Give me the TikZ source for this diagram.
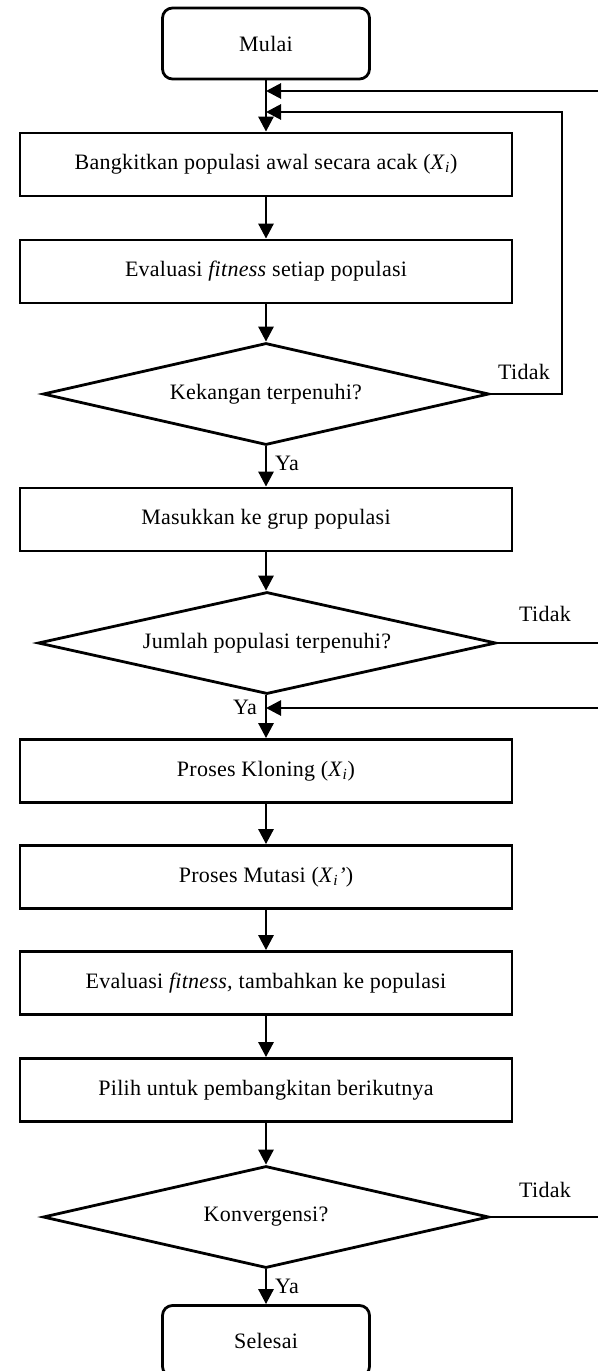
\documentclass[tikz,border=0pt]{standalone}
\usepackage{fontspec}
\setmainfont[LetterSpace=1.2]{Liberation Serif}
\usetikzlibrary{shapes.geometric,arrows.meta,calc}
\begin{document}
\begin{tikzpicture}[x=1pt,y=-1pt]
\tikzset{
  txt/.style={font=\fontsize{22}{26}\selectfont},
  box/.style={draw, txt, line width=2.8pt, minimum width=492pt, minimum height=63pt, inner sep=0pt},
  term/.style={draw, txt, line width=2.8pt, rounded corners=10pt, minimum width=207pt, minimum height=71pt, inner sep=0pt},
  dec/.style={draw, txt, diamond, aspect=4.4, line width=2.8pt, inner sep=0pt, minimum height=102pt},
  ln/.style={line width=2.8pt},
  arr/.style={line width=2.8pt, -{Triangle[length=15pt,width=15pt]}},
  lbl/.style={txt, inner sep=0pt}
}
\useasboundingbox (0,0) rectangle (598,1371);
\fill[white] (0,0) rectangle (598,1371);

\node[term] (mulai) at (266,43.5) {Mulai};
\node[box] (bangkit) at (266,164.5) {Bangkitkan populasi awal secara acak (\textit{X}\textsubscript{\textit{i}})};
\node[box] (eval1) at (266,271.5) {Evaluasi \textit{fitness} setiap populasi};
\node[dec, minimum width=446pt] (kek) at (266,394) {Kekangan terpenuhi?};
\node[box] (masuk) at (266,519.5) {Masukkan ke grup populasi};
\node[dec, minimum width=458pt] (jml) at (267,643) {Jumlah populasi terpenuhi?};
\node[box] (klon) at (266,771) {Proses Kloning (\textit{X}\textsubscript{\textit{i}})};
\node[box] (mut) at (266,877) {Proses Mutasi (\textit{X}\textsubscript{\textit{i}}\textit{’})};
\node[box] (eval2) at (266,983) {Evaluasi \textit{fitness,} tambahkan ke populasi};
\node[box] (pilih) at (266,1090) {Pilih untuk pembangkitan berikutnya};
\node[dec, minimum width=446pt] (konv) at (266,1217) {Konvergensi?};
\node[term] (selesai) at (266,1341) {Selesai};

\coordinate (e1) at (598,91);
\coordinate (r1) at (562,112);
\coordinate (e2) at (598,643);
\coordinate (e3) at (598,708);
\coordinate (e4) at (598,1217);

\draw[arr] (mulai) -- (bangkit);
\draw[arr] (bangkit) -- (eval1);
\draw[arr] (eval1) -- (kek);
\draw[arr] (kek) -- (masuk);
\draw[arr] (masuk) -- (jml.north -| masuk.south);
\draw[arr] (jml.south -| klon.north) -- (klon);
\draw[arr] (klon) -- (mut);
\draw[arr] (mut) -- (eval2);
\draw[arr] (eval2) -- (pilih);
\draw[arr] (pilih) -- (konv);
\draw[arr] (konv) -- (selesai);

\draw[arr] (e1) -- (mulai.south |- e1);
\draw[arr] (kek.east) -| (r1) -- (mulai.south |- r1);
\draw[ln] (jml.east) -- (e2);
\draw[arr] (e3) -- (klon.north |- e3);
\draw[ln] (konv.east) -- (e4);

\node[lbl] (t1) at (524,372) {Tidak};
\node[lbl] (t2) at (545,614) {Tidak};
\node[lbl] (t3) at (545,1190) {Tidak};
\node[lbl, anchor=west] (y1) at (275,463) {Ya};
\node[lbl, anchor=east] (y2) at (257,707) {Ya};
\node[lbl, anchor=west] (y3) at (275,1286) {Ya};
\end{tikzpicture}
\end{document}
